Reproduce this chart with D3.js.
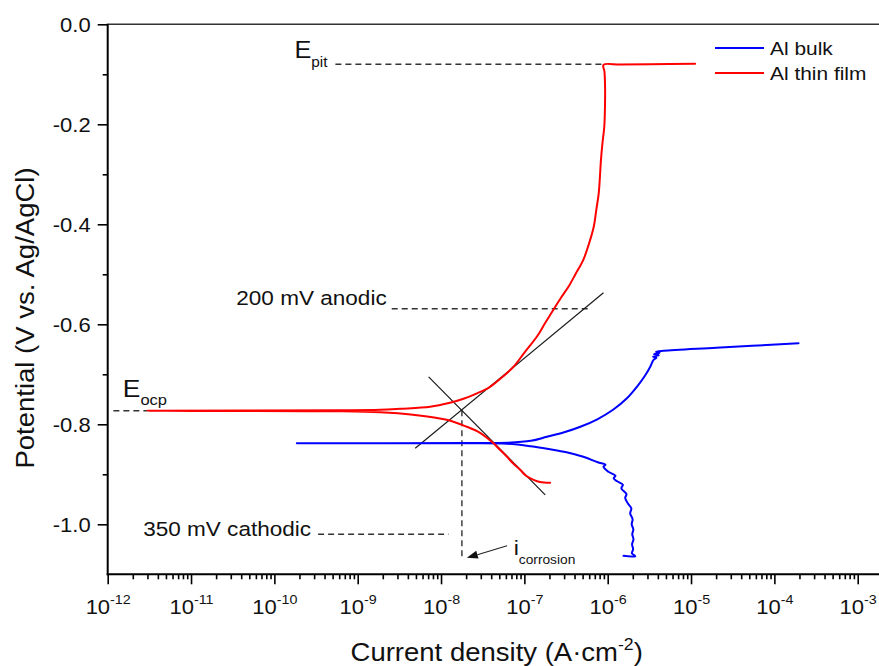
<!DOCTYPE html>
<html>
<head>
<meta charset="utf-8">
<script src="https://cdn.jsdelivr.net/npm/d3@7"></script>
<style>
  html, body { margin: 0; padding: 0; background: #fff; }
  svg { display: block; font-family: "Liberation Sans", Arial, Helvetica, sans-serif; }
</style>
</head>
<body>
<svg id="chart" width="879" height="666"></svg>
<script>
// ---- tick values and labels ----
const xDecades = [-12, -11, -10, -9, -8, -7, -6, -5, -4, -3];
const yMajor = [0, -0.2, -0.4, -0.6, -0.8, -1.0];
const yMajorLabels = ["0.0", "-0.2", "-0.4", "-0.6", "-0.8", "-1.0"];
const yMinor = [-0.1, -0.3, -0.5, -0.7, -0.9];

// ---- series: [current density (A/cm2), potential (V vs Ag/AgCl)] ----
const seriesNames = ["Al bulk", "Al thin film"];
const seriesColors = ["#0000ff", "#ff0000"];

const bulkCurve = [
  [1.55e-6, -1.063], [2.14e-6, -1.064], [1.95e-6, -1.058], [2.02e-6, -1.050],
  [1.96e-6, -1.040], [2.04e-6, -1.030], [1.97e-6, -1.020], [2.03e-6, -1.010],
  [1.94e-6, -1.000], [1.99e-6, -0.990], [1.86e-6, -0.978], [1.92e-6, -0.968],
  [1.74e-6, -0.958], [1.62e-6, -0.947], [1.68e-6, -0.940], [1.46e-6, -0.928],
  [1.52e-6, -0.921], [1.30e-6, -0.914], [1.18e-6, -0.908], [1.24e-6, -0.903],
  [1.02e-6, -0.895], [8.9e-7, -0.885], [9.4e-7, -0.881], [7.6e-7, -0.876],
  [5.1e-7, -0.865], [3.2e-7, -0.856], [2.04e-7, -0.850], [1.2e-7, -0.844],
  [6.2e-8, -0.839], [2.0e-8, -0.838], [1.86e-10, -0.838], [2.0e-8, -0.8375],
  [6.2e-8, -0.837], [1.2e-7, -0.833], [1.86e-7, -0.825], [3.0e-7, -0.816],
  [4.7e-7, -0.805], [7.5e-7, -0.790], [1.16e-6, -0.771], [1.7e-6, -0.748],
  [2.24e-6, -0.725], [2.8e-6, -0.703], [3.24e-6, -0.685], [3.55e-6, -0.671],
  [3.85e-6, -0.667], [3.5e-6, -0.665], [4.1e-6, -0.662], [3.6e-6, -0.660],
  [4.2e-6, -0.657], [3.8e-6, -0.655], [4.68e-6, -0.653], [2.0e-5, -0.647],
  [1.95e-4, -0.638]
];

const filmCurve = [
  [2.04e-7, -0.917], [1.54e-7, -0.9154], [1.29e-7, -0.911], [1.046e-7, -0.903],
  [8.9e-8, -0.891], [7.3e-8, -0.878], [6.2e-8, -0.865], [5.1e-8, -0.851],
  [4.2e-8, -0.837], [2.94e-8, -0.817], [2.04e-8, -0.805], [1.17e-8, -0.791],
  [4.6e-9, -0.781], [1.86e-9, -0.776], [6e-10, -0.774], [3e-12, -0.773],
  [6e-10, -0.772], [1.86e-9, -0.771], [3.22e-9, -0.769], [7.4e-9, -0.765],
  [1.28e-8, -0.757], [1.86e-8, -0.749], [2.7e-8, -0.738], [3.88e-8, -0.725],
  [5.39e-8, -0.706], [7.4e-8, -0.685], [1.018e-7, -0.655], [1.41e-7, -0.625],
  [1.768e-7, -0.598], [2.23e-7, -0.571], [2.75e-7, -0.547], [3.38e-7, -0.525],
  [4.16e-7, -0.498], [5.1e-7, -0.471], [5.96e-7, -0.439], [6.8e-7, -0.405],
  [7.3e-7, -0.371], [7.8e-7, -0.338], [8.08e-7, -0.303], [8.3e-7, -0.271],
  [8.66e-7, -0.237], [9.1e-7, -0.205], [9.28e-7, -0.163], [9.3e-7, -0.125],
  [9.15e-7, -0.095], [8.9e-7, -0.081], [1.405e-6, -0.0806], [3.22e-6, -0.0800],
  [1.12e-5, -0.0788]
];

// ---- Tafel extrapolation lines ----
const tafelAnodic = [[4.9e-9, -0.848], [8.9e-7, -0.537]];
const tafelCathodic = [[7.1e-9, -0.705], [1.78e-7, -0.941]];

// ---- dashed guides ----
const pitGuide = [[5.4e-10, -0.080], [8.9e-7, -0.080]];
const anodicGuide = [[2.56e-9, -0.569], [5.9e-7, -0.569]];
const cathodicGuide = [[3.35e-10, -1.020], [1.23e-8, -1.020]];
const ocpGuide = [[1.17e-12, -0.773], [3e-12, -0.773]];
const corrGuide = [[1.78e-8, -0.772], [1.78e-8, -1.071]];
const corrArrow = [[6.2e-8, -1.043], [2.04e-8, -1.067]];

// ---- layout ----
const W = 879, H = 666;
const plot = { left: 107.7, right: 857.7, top: 24.3, bottom: 574.3 };
const WIDEN = 1.1;

const svg = d3.select("#chart");
const x = d3.scaleLog().domain([1e-12, 1e-3]).range([plot.left, plot.right]);
const y = d3.scaleLinear().domain([-1.1, 0]).range([plot.bottom, plot.top]);

// stretch glyphs horizontally a little
function widen(sel, k = WIDEN) {
  sel.each(function () {
    const len = this.getComputedTextLength();
    d3.select(this).attr("textLength", len * k).attr("lengthAdjust", "spacingAndGlyphs");
  });
}

// ---- x axis ----
const minorX = [];
for (let d = -12; d < -3; d++) for (let m = 2; m <= 9; m++) minorX.push(m * Math.pow(10, d));

const gxMinor = svg.append("g").attr("transform", `translate(0,${plot.bottom})`)
  .call(d3.axisBottom(x).tickValues(minorX).tickSize(5).tickSizeOuter(0).tickFormat(""));
const gx = svg.append("g").attr("transform", `translate(0,${plot.bottom})`)
  .call(d3.axisBottom(x).tickValues(xDecades.map(e => Math.pow(10, e))).tickSize(10).tickSizeOuter(0).tickFormat(""));
[gxMinor, gx].forEach(g => {
  g.select(".domain").remove();
  g.selectAll(".tick line").attr("stroke", "#000").attr("stroke-width", 1.6);
});
gx.selectAll(".tick").each(function (d) {
  const e = Math.round(Math.log10(d));
  const t = d3.select(this).append("text")
    .attr("x", 0).attr("y", 40).attr("fill", "#111")
    .attr("text-anchor", "middle").attr("font-size", 20);
  t.append("tspan").text("10");
  t.append("tspan").attr("font-size", 13).attr("dy", -10.5).text(String(e));
  widen(t);
});

// axis frame lines (bottom and top run to the right edge)
svg.append("line").attr("x1", plot.left - 1).attr("x2", W).attr("y1", plot.bottom).attr("y2", plot.bottom)
  .attr("stroke", "#000").attr("stroke-width", 2);
svg.append("line").attr("x1", plot.left - 1).attr("x2", W).attr("y1", plot.top).attr("y2", plot.top)
  .attr("stroke", "#333").attr("stroke-width", 1.6);

// ---- y axis ----
const gyMinor = svg.append("g").attr("transform", `translate(${plot.left},0)`)
  .call(d3.axisLeft(y).tickValues(yMinor).tickSize(5).tickSizeOuter(0).tickFormat(""));
const gy = svg.append("g").attr("transform", `translate(${plot.left},0)`)
  .call(d3.axisLeft(y).tickValues(yMajor).tickSize(10).tickSizeOuter(0)
    .tickFormat((d, i) => yMajorLabels[i]));
gyMinor.select(".domain").remove();
gy.select(".domain").attr("stroke", "#000").attr("stroke-width", 2)
  .attr("d", `M0,${plot.top}V${plot.bottom + 1}`);
[gyMinor, gy].forEach(g => g.selectAll(".tick line").attr("stroke", "#000").attr("stroke-width", 1.6));
gy.selectAll(".tick text")
  .attr("font-family", null).attr("font-size", 20).attr("fill", "#111")
  .attr("x", -17).attr("dy", "0.36em");
widen(gy.selectAll(".tick text"));

// ---- axis titles ----
const xt = svg.append("text").attr("x", 496.7).attr("y", 661).attr("text-anchor", "middle")
  .attr("font-size", 25).attr("fill", "#111");
xt.append("tspan").text("Current density (A\u00b7cm");
xt.append("tspan").attr("font-size", 16).attr("dy", -11).text("-2");
xt.append("tspan").attr("dy", 11).text(")");
widen(xt);

const yt = svg.append("text").attr("transform", "translate(34,318) rotate(-90)")
  .attr("text-anchor", "middle").attr("font-size", 25).attr("fill", "#111")
  .text("Potential (V vs. Ag/AgCl)");
widen(yt);

// ---- dashed guides ----
const lineGen = d3.line().x(d => x(d[0])).y(d => y(d[1]));
[pitGuide, anodicGuide, cathodicGuide, ocpGuide, corrGuide].forEach(g => {
  svg.append("path").attr("d", lineGen(g)).attr("fill", "none")
    .attr("stroke", "#333").attr("stroke-width", 1.4).attr("stroke-dasharray", "6,4");
});

// ---- Tafel lines ----
[tafelAnodic, tafelCathodic].forEach(g => {
  svg.append("path").attr("d", lineGen(g)).attr("fill", "none")
    .attr("stroke", "#1a1a1a").attr("stroke-width", 1.2);
});

// ---- polarization curves ----
const curveGen = d3.line().x(d => x(d[0])).y(d => y(d[1])).curve(d3.curveCatmullRom.alpha(0.5));
[bulkCurve, filmCurve].forEach((c, i) => {
  svg.append("path").attr("d", curveGen(c)).attr("fill", "none")
    .attr("stroke", seriesColors[i]).attr("stroke-width", 2)
    .attr("stroke-linejoin", "round").attr("stroke-linecap", "round");
});

// ---- annotation labels ----
function subLabel(px, py, main, sub, mainSize, subSize, subDy) {
  const t = svg.append("text").attr("x", px).attr("y", py).attr("fill", "#111").attr("font-size", mainSize);
  t.append("tspan").text(main);
  t.append("tspan").attr("font-size", subSize).attr("dy", subDy).text(sub);
  widen(t);
  return t;
}
subLabel(x(pitGuide[0][0]) - 41, y(pitGuide[0][1]) - 6.5, "E", "pit", 23, 14, 9);
subLabel(x(ocpGuide[0][0]) + 9.4, y(ocpGuide[0][1]) - 14.3, "E", "ocp", 24, 15, 8);

svg.append("text").attr("x", x(anodicGuide[0][0]) - 5).attr("y", y(anodicGuide[0][1]) - 4)
  .attr("text-anchor", "end").attr("font-size", 20.5).attr("fill", "#111")
  .text("200 mV anodic").call(widen);
svg.append("text").attr("x", x(cathodicGuide[0][0]) - 7).attr("y", y(cathodicGuide[0][1]) + 1.5)
  .attr("text-anchor", "end").attr("font-size", 20.5).attr("fill", "#111")
  .text("350 mV cathodic").call(widen);

// arrow to the corrosion current
const tail = [x(corrArrow[0][0]), y(corrArrow[0][1])];
const tip = [x(corrArrow[1][0]), y(corrArrow[1][1])];
const ang = Math.atan2(tip[1] - tail[1], tip[0] - tail[0]);
const headLen = 11, headHalf = 4;
const base = [tip[0] - headLen * Math.cos(ang), tip[1] - headLen * Math.sin(ang)];
svg.append("line").attr("x1", tail[0]).attr("y1", tail[1]).attr("x2", base[0]).attr("y2", base[1])
  .attr("stroke", "#222").attr("stroke-width", 1.1);
svg.append("path")
  .attr("d", `M${tip[0]},${tip[1]}L${base[0] - headHalf * Math.sin(ang)},${base[1] + headHalf * Math.cos(ang)}L${base[0] + headHalf * Math.sin(ang)},${base[1] - headHalf * Math.cos(ang)}Z`)
  .attr("fill", "#111");
subLabel(tail[0] + 6.6, tail[1] + 9, "i", "corrosion", 21, 12.5, 9);

// ---- legend ----
seriesNames.forEach((name, i) => {
  const ly = 48 + i * 25;
  svg.append("line").attr("x1", 715).attr("x2", 764).attr("y1", ly).attr("y2", ly)
    .attr("stroke", seriesColors[i]).attr("stroke-width", 2);
  svg.append("text").attr("x", 770).attr("y", ly + 7).attr("font-size", 19).attr("fill", "#111")
    .text(name).call(widen);
});
</script>
</body>
</html>
